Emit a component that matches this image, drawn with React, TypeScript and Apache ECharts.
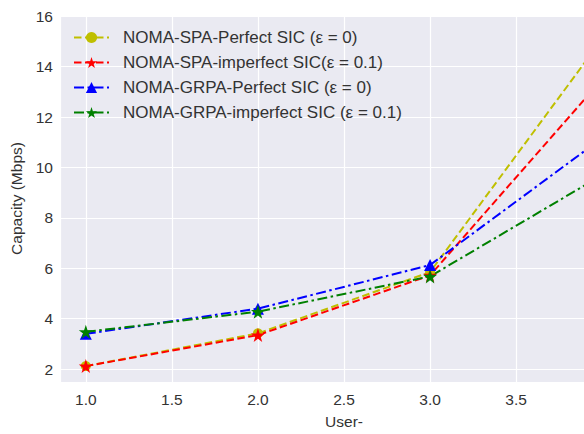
import React, { useEffect, useRef } from "react";
import * as echarts from "echarts";

const users = [1, 2, 3, 4];
const spaPerfect = [2.12, 3.42, 5.85, 15.1];
const spaImperfect = [2.12, 3.35, 5.72, 13.5];
const grpaPerfect = [3.4, 4.4, 6.13, 11.17];
const grpaImperfect = [3.48, 4.28, 5.68, 9.7];
const seriesNames = [
  "NOMA-SPA-Perfect SIC (ε = 0)",
  "NOMA-SPA-imperfect SIC(ε = 0.1)",
  "NOMA-GRPA-Perfect SIC (ε = 0)",
  "NOMA-GRPA-imperfect SIC (ε = 0.1)",
];

const STAR =
  "path://M50,0 L61.8,35.1 L98.1,35.1 L68.8,56.7 L79.4,90.5 L50,69.5 L20.6,90.5 L31.2,56.7 L1.9,35.1 L38.2,35.1 Z";

const FONT = "Liberation Sans, Arial, sans-serif";
const TXT = "#333333";

function pairs(ys: number[]) {
  return users.map((x, i) => [x, ys[i]]);
}

export default function App() {
  const ref = useRef<HTMLDivElement>(null);
  useEffect(() => {
    if (!ref.current) return;
    const chart = echarts.init(ref.current, undefined, { renderer: "svg" });
    const mk = (
      name: string,
      ys: number[],
      color: string,
      dash: number[],
      symbol: string,
      size: number
    ) => ({
      name,
      type: "line",
      data: pairs(ys),
      symbol,
      symbolSize: size,
      showAllSymbol: true,
      clip: true,
      lineStyle: { color, width: 2, type: dash },
      itemStyle: { color },
    });
    chart.setOption({
      animation: false,
      textStyle: { fontFamily: FONT },
      grid: {
        left: 60,
        top: 15,
        width: 568,
        height: 370,
        show: true,
        backgroundColor: "#EAEAF2",
        borderWidth: 0,
      },
      legend: {
        orient: "vertical",
        left: 73,
        top: 29,
        padding: 0,
        itemWidth: 35,
        itemHeight: 14,
        itemGap: 8,
        textStyle: {
          fontSize: 17,
          color: TXT,
          fontFamily: FONT,
          padding: [0, 0, 0, 9],
        },
        data: seriesNames,
      },
      xAxis: {
        type: "value",
        min: 0.85,
        max: 4.15,
        minInterval: 0.5,
        maxInterval: 0.5,
        axisLine: { show: false },
        axisTick: { show: false },
        splitLine: { show: true, lineStyle: { color: "#ffffff", width: 1.2 } },
        axisLabel: {
          fontSize: 15.5,
          color: TXT,
          margin: 9,
          showMinLabel: false,
          showMaxLabel: false,
          formatter: (v: number) =>
            v < 3.9 && Math.abs(v * 2 - Math.round(v * 2)) < 1e-6 ? v.toFixed(1) : "",
        },
        name: "User-",
        nameLocation: "middle",
        nameGap: 31,
        nameTextStyle: { fontSize: 15.5, color: TXT },
      },
      yAxis: {
        type: "value",
        min: 1.49,
        max: 16.05,
        minInterval: 2,
        maxInterval: 2,
        axisLine: { show: false },
        axisTick: { show: false },
        splitLine: { show: true, lineStyle: { color: "#ffffff", width: 1.2 } },
        axisLabel: {
          fontSize: 15.5,
          color: TXT,
          margin: 7,
          formatter: (v: number) =>
            Math.abs(v / 2 - Math.round(v / 2)) < 1e-6 ? String(Math.round(v)) : "",
        },
        name: "Capacity (Mbps)",
        nameLocation: "middle",
        nameGap: 36,
        nameTextStyle: { fontSize: 15.5, color: TXT },
      },
      series: [
        mk(seriesNames[0], spaPerfect, "#BFBF00", [7.5, 3.5], "circle", 10),
        mk(seriesNames[1], spaImperfect, "#FF0000", [7.5, 3.5], STAR, 14),
        mk(seriesNames[2], grpaPerfect, "#0000FF", [10, 3.5, 2.5, 3.5], "triangle", 12),
        mk(seriesNames[3], grpaImperfect, "#008000", [10, 3.5, 2.5, 3.5], STAR, 14),
      ],
    });
    return () => chart.dispose();
  }, []);
  return (
    <div
      style={{
        position: "fixed",
        left: 0,
        top: 0,
        width: 584,
        height: 434,
        overflow: "hidden",
        background: "#ffffff",
      }}
    >
      <div ref={ref} style={{ width: 660, height: 434 }} />
    </div>
  );
}
